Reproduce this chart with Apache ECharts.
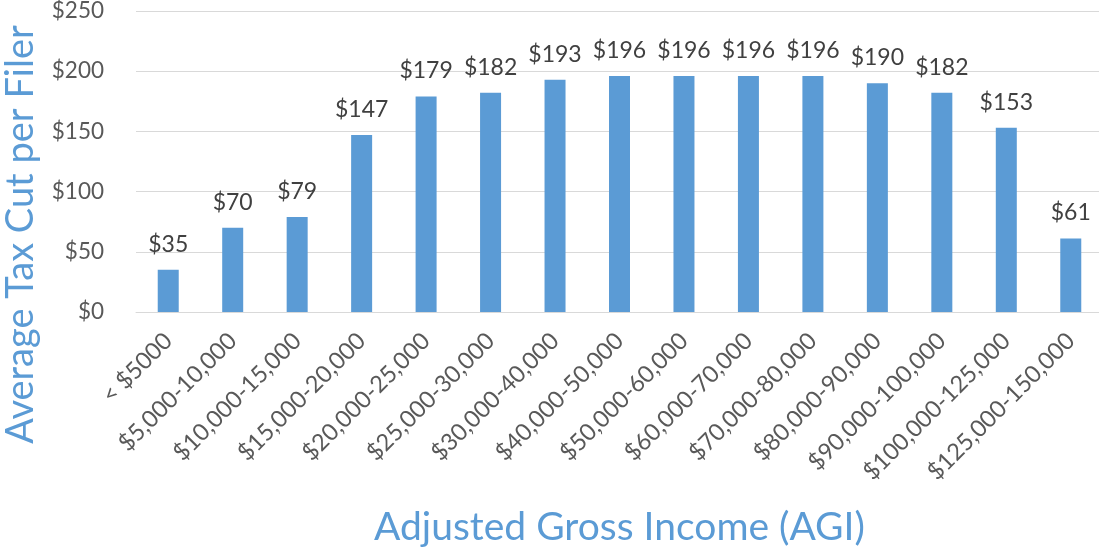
<!DOCTYPE html>
<html>
<head>
<meta charset="utf-8">
<script src="https://cdn.jsdelivr.net/npm/echarts@6/dist/echarts.min.js"></script>
<style>
  html, body { margin: 0; padding: 0; background: #fff; }
  #chart { width: 1099px; height: 548px; }
</style>
</head>
<body>
<div id="chart"></div>
<script>
// 收入区间
const categories = [
  "< $5000", "$5,000-10,000", "$10,000-15,000", "$15,000-20,000",
  "$20,000-25,000", "$25,000-30,000", "$30,000-40,000", "$40,000-50,000",
  "$50,000-60,000", "$60,000-70,000", "$70,000-80,000", "$80,000-90,000",
  "$90,000-100,000", "$100,000-125,000", "$125,000-150,000"
];
// 平均减税
const taxCut = [35, 70, 79, 147, 179, 182, 193, 196, 196, 196, 196, 190, 182, 153, 61];

const font = "Lato, 'Open Sans', sans-serif";
const blue = "#5B9BD5";

const chart = echarts.init(document.getElementById("chart"));
chart.setOption({
  animation: false,
  textStyle: { fontFamily: font },
  grid: { left: 136, top: 11, width: 967, height: 301, containLabel: false, outerBoundsMode: "none" },
  xAxis: {
    type: "category",
    data: categories,
    name: "Adjusted Gross Income (AGI)",
    nameLocation: "middle",
    nameGap: 196,
    nameTextStyle: { color: blue, fontSize: 39, fontFamily: font },
    axisLine: { lineStyle: { color: "#d9d9d9", width: 1 } },
    axisTick: { show: false },
    axisLabel: {
      rotate: 45,
      interval: 0,
      margin: 25,
      color: "#595959",
      fontSize: 23.5,
      fontFamily: font
    }
  },
  yAxis: {
    type: "value",
    min: 0,
    max: 250,
    interval: 50,
    name: "Average Tax Cut per Filer",
    nameLocation: "middle",
    nameGap: 96,
    nameTextStyle: { color: blue, fontSize: 38, fontFamily: font, padding: [0, 146, 0, 0] },
    axisLine: { show: false },
    axisTick: { show: false },
    splitLine: { lineStyle: { color: "#d9d9d9", width: 1 } },
    axisLabel: {
      formatter: v => "$" + v,
      color: "#595959",
      fontSize: 22.5,
      margin: 32,
      fontFamily: font
    }
  },
  series: [{
    type: "bar",
    data: taxCut,
    barWidth: 21,
    itemStyle: { color: blue },
    label: {
      show: true,
      position: "top",
      distance: 14,
      formatter: p => "$" + p.value,
      color: "#404040",
      fontSize: 23,
      fontFamily: font
    }
  }]
});
</script>
</body>
</html>
